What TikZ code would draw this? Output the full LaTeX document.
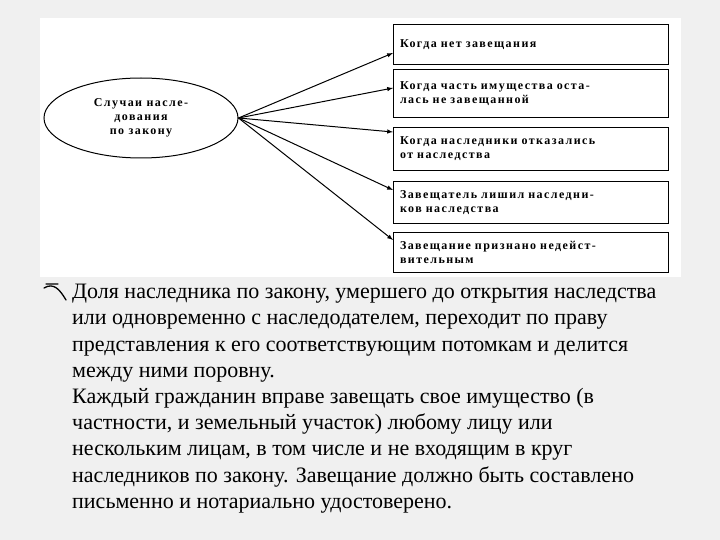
\documentclass[tikz,border=0pt]{standalone}
\usepackage{fontspec}
\setmainfont{Liberation Serif}
\usetikzlibrary{shapes.geometric}
\begin{document}
\begin{tikzpicture}[x=1pt,y=-1pt,
  bf/.style={font=\fontsize{12}{14}\selectfont\bfseries\addfontfeature{LetterSpace=12}},
  bx/.style={bf,draw,line width=1pt,minimum width=275pt,anchor=north west,inner sep=6pt,align=left,text width=262pt},
  ar/.style={-latex,line width=1pt}]
\useasboundingbox (0,0) rectangle (720,540);
\fill[gray!12] (0,0) rectangle (720,540);
\fill[white] (40,18) rectangle (681,277);
\node[bf,draw,ellipse,line width=1pt,minimum width=194pt,minimum height=80pt,inner sep=0pt,align=center] (e) at (141,118) {Случаи насле-\\дования\\по закону};
\node[bx,minimum height=40pt] (b1) at (393,24) {Когда нет завещания\\ };
\node[bx,minimum height=48pt] (b2) at (393,69) {Когда часть имущества оста-\\лась не завещанной};
\node[bx,minimum height=43pt] (b3) at (393,127) {Когда наследники отказались\\от наследства};
\node[bx,minimum height=42pt] (b4) at (393,181) {Завещатель лишил наследни-\\ков наследства};
\node[bx,minimum height=40pt] (b5) at (393,232) {Завещание признано недейст-\\вительным};
\coordinate (o) at (e.east);
\draw[ar] (o) -- (b1.west|-0,53);
\draw[ar] (o) -- (b2.west|-0,88);
\draw[ar] (o) -- (b3.west|-0,132);
\draw[ar] (o) -- (b4.west|-0,190);
\draw[ar] (o) -- (b5.west|-0,240);
\draw[line width=1.3pt,line cap=round] (44,288) .. controls (54,282) and (60,290) .. (66,300) (46,284) -- (58,284);
\node[anchor=north west,inner sep=0pt,align=left,font=\fontsize{22}{26.2}\selectfont] (t) at (72,284) {Доля наследника по закону, умершего до открытия наследства\\или одновременно с наследодателем, переходит по праву\\представления к его соответствующим потомкам и делится\\между ними поровну.\\Каждый гражданин вправе завещать свое имущество (в\\частности, и земельный участок) любому лицу или\\нескольким лицам, в том числе и не входящим в круг\\наследников по закону. Завещание должно быть составлено\\письменно и нотариально удостоверено.};
\end{tikzpicture}
\end{document}
